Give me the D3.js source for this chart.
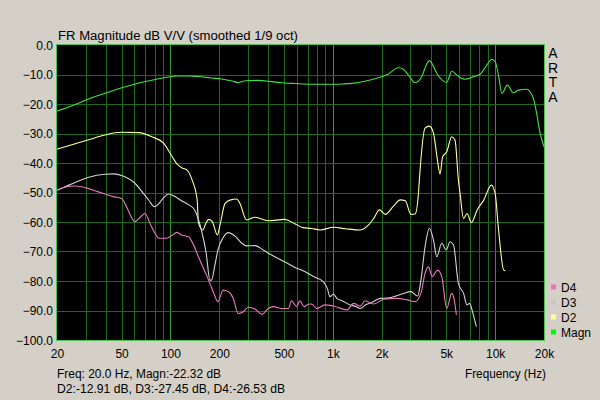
<!DOCTYPE html>
<html><head><meta charset="utf-8">
<script src="https://d3js.org/d3.v7.min.js"></script>
<style>
html,body{margin:0;padding:0;background:#d4d0c8;}
svg{display:block;font-family:"Liberation Sans",Arial,sans-serif;}
</style></head>
<body>
<svg id="c" width="600" height="400"></svg>
<script>
// ---- data (frequency Hz, dB) ----
const magn = [[20,-22.4],[25,-20.5],[31,-18.4],[40,-16.3],[50,-14.5],[60,-13.3],[70,-12.4],[82,-11.6],[93,-11.0],[111,-10.5],[130,-10.5],[148,-10.7],[175,-11.1],[207,-11.5],[240,-12.2],[260,-12.7],[275,-12.4],[290,-12.1],[347,-12.0],[420,-12.4],[485,-12.8],[560,-13.0],[655,-13.2],[800,-13.3],[1000,-13.3],[1150,-13.2],[1309,-13.0],[1600,-12.2],[1865,-11.3],[2200,-9.8],[2535,-7.7],[2722,-8.2],[2950,-10.5],[3213,-12.8],[3533,-10.7],[3750,-7.0],[3937,-5.3],[4150,-7.0],[4367,-9.6],[4700,-11.8],[5035,-12.7],[5200,-11.0],[5403,-8.8],[5804,-10.2],[6150,-11.2],[6530,-11.6],[7300,-10.8],[8080,-9.9],[8800,-7.2],[9530,-4.9],[10000,-5.6],[10500,-10.5],[11000,-16.4],[11900,-13.6],[12950,-16.2],[13900,-15.3],[15670,-15.0],[16500,-16.0],[17200,-18.1],[18000,-23.0],[18930,-29.9],[20000,-34.5]];
const d2 = [[20,-35.3],[25,-33.7],[31,-32.2],[39.4,-30.5],[50,-29.6],[63.7,-29.7],[76.8,-31.1],[90.6,-33.3],[99.6,-36.7],[109.6,-40.3],[118,-41.7],[126.5,-42.4],[136,-45.8],[146,-52.5],[148.7,-60.4],[158,-62.7],[165,-60.5],[172,-59.1],[181,-59.9],[194.5,-64.4],[202,-61],[217,-53.7],[235,-52.5],[256,-52.2],[268,-53.7],[294,-59.3],[333,-58.4],[400,-59.6],[506,-59.1],[580,-60.5],[655,-61.9],[740,-62.2],[835,-62.7],[1010,-61.8],[1200,-62.3],[1475,-62.7],[1660,-61],[1800,-58.5],[1935,-55.9],[2108,-57.4],[2350,-54.8],[2606,-52.5],[2797,-52.8],[3030,-57.4],[3213,-57.3],[3370,-50.3],[3413,-45.8],[3700,-28.2],[3937,-27.5],[4170,-29.9],[4400,-38.5],[4578,-43.7],[4750,-37.9],[5035,-36.2],[5403,-31.1],[5660,-32.2],[5940,-45.8],[6080,-50.3],[6390,-58.8],[6710,-57.1],[7140,-60.2],[7750,-55.9],[8520,-52.5],[9470,-47.5],[10000,-50.3],[10500,-62.7],[11290,-76.3],[11570,-76.5]];
const d3s = [[20,-49.2],[24.6,-47.1],[31,-44.9],[39.5,-43.8],[45,-43.7],[52,-44.6],[60,-46.7],[68,-50.3],[74,-52.8],[79.4,-54.8],[84,-54.0],[88.5,-52.5],[97.5,-50.5],[105,-51.2],[117,-52.8],[130,-54.2],[141,-55.9],[148,-58.8],[155,-62.7],[166,-70.6],[175,-79.7],[179,-79.7],[188,-74.5],[196,-69.5],[210,-65.5],[227,-63.6],[250,-64.8],[275,-67.2],[294,-68.1],[333,-68],[375,-69.6],[420,-71.2],[506,-73.5],[585,-75.4],[656,-76.5],[760,-78.5],[873,-80.2],[925,-82.5],[960,-85.3],[1010,-84.4],[1058,-85.9],[1150,-86.8],[1280,-88.1],[1380,-88.6],[1475,-89.3],[1600,-88.0],[1750,-87.2],[1960,-85.9],[2150,-85.8],[2380,-85.3],[2700,-84.3],[3020,-83.6],[3330,-85.1],[3490,-79.7],[3700,-68.4],[3937,-62.1],[4170,-66.1],[4370,-71.8],[4690,-67.2],[4990,-69.5],[5280,-66.7],[5540,-67.8],[5940,-80.8],[6390,-84.2],[6710,-88.1],[6960,-87.6],[7300,-91],[7660,-95.5]];
const d4 = [[20,-49.2],[22.4,-48.2],[25.8,-47.8],[31,-48.6],[35,-49.6],[39.5,-50.5],[44.3,-51.4],[50,-52],[53.6,-54.8],[57,-58.0],[60.2,-59.9],[65,-58.4],[69.8,-57.1],[74.7,-60.4],[80.2,-63.8],[85,-65.5],[94.5,-65.5],[102,-64.6],[109.6,-63.5],[117,-64.4],[129,-65],[138,-67.5],[148.7,-71.8],[162,-76.5],[175,-80.8],[186,-84.5],[196,-87],[211,-83.1],[227,-83.6],[244,-85.9],[261,-91],[281,-90.4],[301,-88.9],[333,-89.6],[366,-91.3],[400,-89.3],[430,-88.7],[485,-89.3],[533,-89.3],[556,-86.7],[600,-88.7],[626,-86.7],[667,-88.7],[705,-87.9],[740,-87.8],[795,-89.3],[895,-88.1],[1010,-88.5],[1225,-89.8],[1345,-87.6],[1475,-88.5],[1580,-86.7],[1790,-87.8],[2060,-86.2],[2480,-85.9],[2870,-86.4],[3213,-87],[3490,-84.2],[3700,-77.4],[3880,-75.2],[4100,-78.5],[4420,-76.3],[4690,-78.5],[5035,-89.3],[5403,-84.2],[5600,-86.4],[5770,-91.5]];
const xTickVals = [20,50,100,200,500,1000,2000,5000,10000,20000];
const xTickLabels = ["20","50","100","200","500","1k","2k","5k","10k","20k"];
const yTickVals = [0,-10,-20,-30,-40,-50,-60,-70,-80,-90,-100];
const legendNames = ["D4","D3","D2","Magn"];
const legendColors = ["#f070c0","#c8c8c8","#ffff90","#00ff00"];

// ---- layout ----
const L=57, R=544, T=45, B=340;
const svg = d3.select("#c");
const x = d3.scaleLog().domain([20,20000]).range([L,R]);
const y = d3.scaleLinear().domain([-100,0]).range([B,T]);

svg.append("rect").attr("x",L).attr("y",T).attr("width",R-L).attr("height",B-T).attr("fill","#000");

// vertical grid (all 1-2-...-9 per decade)
const minor = [];
[10,100,1000,10000].forEach(d=>{for(let k=1;k<10;k++){const f=d*k; if(f>20&&f<20000) minor.push(f);}});
const g = svg.append("g");
g.selectAll("line.v").data(minor).join("line")
  .attr("x1",d=>Math.round(x(d))+0.5).attr("x2",d=>Math.round(x(d))+0.5)
  .attr("y1",T).attr("y2",B)
  .attr("stroke",d=>[100,1000,10000].includes(d)?"#2c9a2c":"#1c6a1c").attr("stroke-width",1);
g.selectAll("line.h").data(yTickVals.slice(1,-1)).join("line")
  .attr("x1",L).attr("x2",R)
  .attr("y1",d=>Math.round(y(d))+0.5).attr("y2",d=>Math.round(y(d))+0.5)
  .attr("stroke","#1c6a1c");

// curves
const line = d3.line().x(d=>x(d[0])).y(d=>y(d[1])).curve(d3.curveMonotoneX);
svg.append("clipPath").attr("id","pc").append("rect").attr("x",L).attr("y",T).attr("width",R-L).attr("height",B-T);
const series = [[d4,"#e878c0"],[d3s,"#d4d4d4"],[d2,"#ffffa0"],[magn,"#44e044"]];
series.slice().reverse().forEach(([data,col])=>{
  svg.append("path").datum(data).attr("d",line).attr("fill","none")
    .attr("stroke",col).attr("stroke-width",1.1).attr("clip-path","url(#pc)");
});

// border
svg.append("rect").attr("x",L-0.5).attr("y",T-0.5).attr("width",R-L+1).attr("height",B-T+1)
  .attr("fill","none").attr("stroke","#4cc04c");

// axes
const xAxis = d3.axisBottom(x).tickValues(xTickVals).tickFormat((d,i)=>xTickLabels[i]).tickSize(0).tickPadding(0);
const xa = svg.append("g").attr("transform",`translate(0,${B})`).call(xAxis);
xa.select(".domain").remove();
xa.selectAll("text").attr("y",18).attr("dy",0).attr("font-size",12).attr("fill","#000").attr("font-family","Liberation Sans, Arial, sans-serif");

const yAxis = d3.axisLeft(y).tickValues(yTickVals).tickFormat(d3.format(".1f")).tickSize(0).tickPadding(4);
const ya = svg.append("g").attr("transform",`translate(${L},0)`).call(yAxis);
ya.select(".domain").remove();
ya.selectAll("text").attr("font-size",12).attr("fill","#000").attr("dy","0.35em").attr("font-family","Liberation Sans, Arial, sans-serif");

// texts
const txt = (t,xx,yy,anchor,len)=>{
  const e = svg.append("text").text(t).attr("x",xx).attr("y",yy)
    .attr("font-size",12).attr("fill","#000").attr("text-anchor",anchor||"start");
  if(len) e.attr("textLength",len).attr("lengthAdjust","spacingAndGlyphs");
  return e;
};
txt("FR Magnitude dB V/V (smoothed 1/9 oct)",58,39.5,"start",240).attr("font-size",12.5);
txt("Freq: 20.0 Hz, Magn:-22.32 dB",57,378,"start",164).attr("font-size",12.5);
txt("D2:-12.91 dB, D3:-27.45 dB, D4:-26.53 dB",57,393,"start",228);
txt("Frequency (Hz)",465,378,"start",81);
["A","R","T","A"].forEach((c,i)=>svg.append("text").text(c).attr("x",553).attr("y",58+i*14.5)
  .attr("font-size",14).attr("text-anchor","middle").attr("fill","#000"));

// legend
legendNames.forEach((n,i)=>{
  const yy = 287+i*15;
  svg.append("rect").attr("x",551).attr("y",yy-2.5).attr("width",5).attr("height",5).attr("fill",legendColors[i]);
  txt(n,561,yy+4.5);
});
</script>
</body></html>
